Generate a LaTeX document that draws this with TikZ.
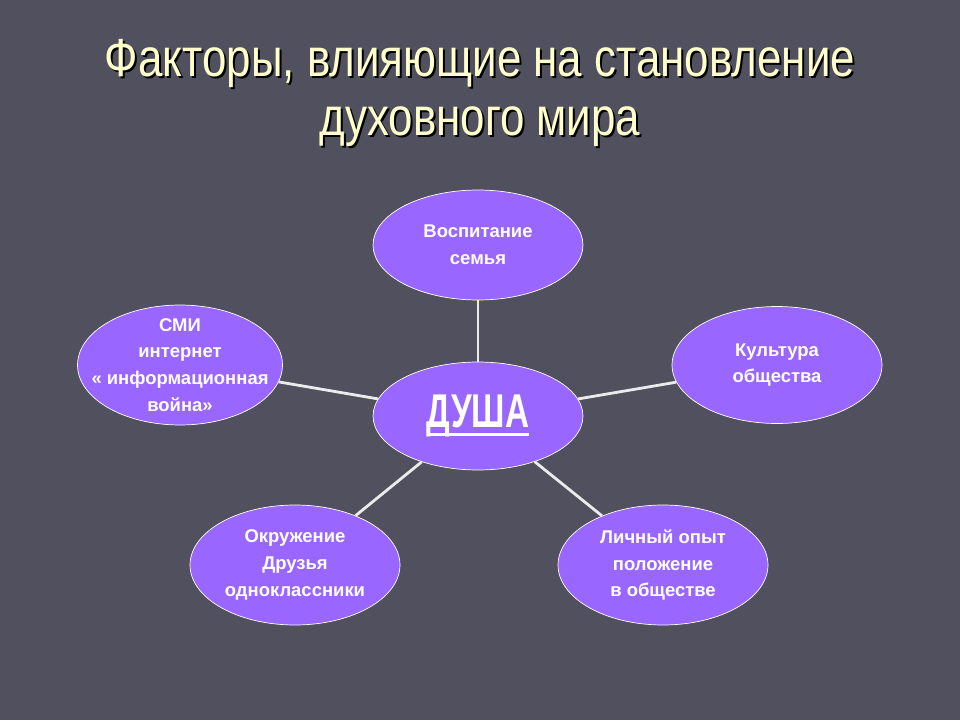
\documentclass[tikz,border=0pt]{standalone}
\usepackage{fontspec}
\setmainfont{Liberation Sans}
\newfontfamily\titlefont{Liberation Sans}[FakeStretch=0.82]
\newfontfamily\soulfont{Liberation Sans Bold}[FakeStretch=0.7]
\usetikzlibrary{shapes.geometric}

\definecolor{slidebg}{HTML}{50505E}
\definecolor{factor}{HTML}{9966FF}
\definecolor{titlecol}{HTML}{FFFFCC}

% thick underline as on the slide
\newcommand{\soulline}[1]{{\setbox0\hbox{#1}\copy0\llap{\rule[-5pt]{\wd0}{1.8pt}}}}

\tikzset{
  factor/.style={ellipse, draw=white, fill=factor, text=white, font=\bfseries\fontsize{10.5}{15.3}\selectfont,
    align=center, minimum width=4.2cm, minimum height=2.3cm, inner sep=-0.7cm},
  link/.style={draw=white!92!black, line width=1.6pt},
  heading/.style={font=\titlefont\fontsize{30.5}{34}\selectfont, align=center}
}

\begin{document}
\begin{tikzpicture}[x=0.02cm, y=-0.02cm]
\fill[slidebg] (0,0) rectangle (960,720);
\useasboundingbox (0,0) rectangle (960,720);

% title with its shadow
\node[heading, text=black] (shadow) at (482,95) {Факторы, влияющие на становление\\духовного мира};
\node[heading, text=titlecol] (title) at (480,93) {Факторы, влияющие на становление\\духовного мира};

% factors
\node[factor, minimum height=2.16cm] (soul) at (478,416) {\soulfont\fontsize{27}{28}\selectfont\soulline{ДУША}};
\node[factor, minimum height=2.2cm] (family) at (478,245) {Воспитание\\семья};
\node[factor, minimum height=2.34cm] (culture) at (777,365) {Культура\\общества};
\node[factor, minimum width=4.1cm, minimum height=2.4cm] (media) at (180,365) {СМИ\\интернет\\« информационная\\война»};
\node[factor, minimum height=2.4cm] (friends) at (295,565) {Окружение\\Друзья\\одноклассники};
\node[factor, minimum height=2.4cm] (life) at (663,565) {Личный опыт\\положение\\в обществе};

\draw[link] (family) -- (soul);
\draw[link] (culture) -- (soul);
\draw[link] (media) -- (soul);
\draw[link] (friends) -- (soul);
\draw[link] (life) -- (soul);
\end{tikzpicture}
\end{document}
